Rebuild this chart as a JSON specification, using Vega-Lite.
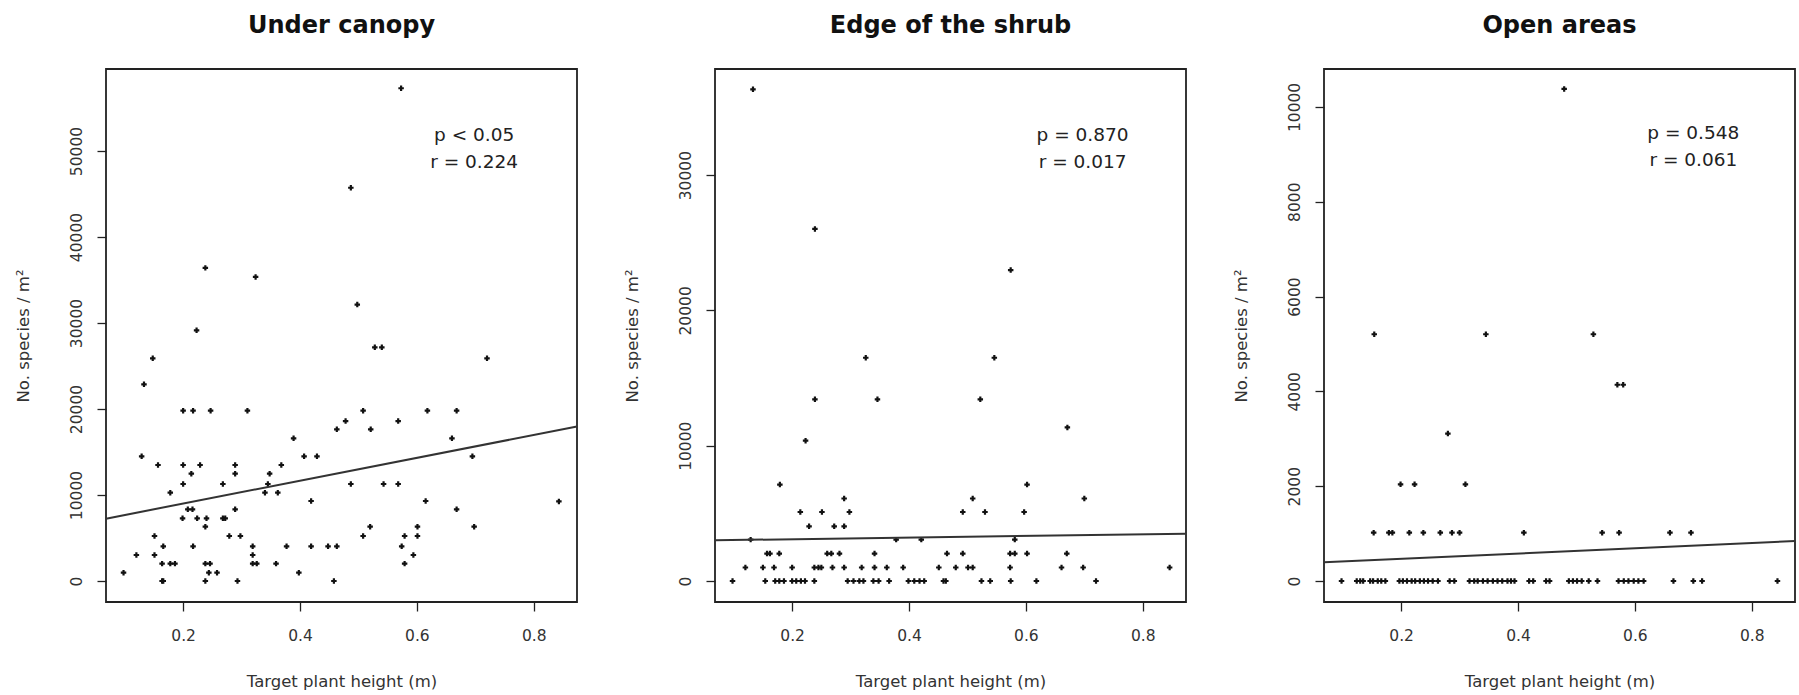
{
  "$schema": "https://vega.github.io/schema/vega-lite/v6.json",
  "autosize": {"type": "pad"},
  "padding": {"left": 14, "top": 13, "right": 0, "bottom": 0},
  "background": "white",
  "bounds": "flush",
  "spacing": 138,
  "datasets": {
    "p1": [
      {"h":0.573,"n":57300},{"h":0.487,"n":45730},{"h":0.238,"n":36410},{"h":0.324,"n":35360},{"h":0.498,"n":32140},{"h":0.223,"n":29150},{"h":0.528,"n":27170},{"h":0.540,"n":27170},{"h":0.148,"n":25890},{"h":0.720,"n":25890},{"h":0.133,"n":22870},
      {"h":0.200,"n":19800},{"h":0.217,"n":19800},{"h":0.247,"n":19800},{"h":0.310,"n":19800},{"h":0.508,"n":19800},{"h":0.618,"n":19800},{"h":0.668,"n":19800},
      {"h":0.478,"n":18600},{"h":0.568,"n":18600},{"h":0.463,"n":17640},{"h":0.521,"n":17640},{"h":0.389,"n":16590},{"h":0.660,"n":16590},
      {"h":0.129,"n":14500},{"h":0.407,"n":14500},{"h":0.429,"n":14500},{"h":0.695,"n":14500},
      {"h":0.157,"n":13490},{"h":0.200,"n":13490},{"h":0.229,"n":13490},{"h":0.289,"n":13490},{"h":0.368,"n":13490},
      {"h":0.214,"n":12480},{"h":0.289,"n":12480},{"h":0.348,"n":12480},
      {"h":0.200,"n":11280},{"h":0.268,"n":11280},{"h":0.345,"n":11280},{"h":0.487,"n":11280},{"h":0.543,"n":11280},{"h":0.568,"n":11280},
      {"h":0.178,"n":10270},{"h":0.340,"n":10270},{"h":0.362,"n":10270},
      {"h":0.419,"n":9300},{"h":0.615,"n":9300},{"h":0.843,"n":9250},
      {"h":0.208,"n":8330},{"h":0.216,"n":8330},{"h":0.289,"n":8330},{"h":0.668,"n":8330},
      {"h":0.199,"n":7290},{"h":0.224,"n":7290},{"h":0.240,"n":7290},{"h":0.268,"n":7290},{"h":0.272,"n":7290},
      {"h":0.238,"n":6320},{"h":0.520,"n":6320},{"h":0.601,"n":6320},{"h":0.698,"n":6320},
      {"h":0.151,"n":5230},{"h":0.279,"n":5230},{"h":0.298,"n":5230},{"h":0.508,"n":5230},{"h":0.579,"n":5230},{"h":0.601,"n":5230},
      {"h":0.166,"n":4030},{"h":0.217,"n":4030},{"h":0.319,"n":4030},{"h":0.377,"n":4030},{"h":0.419,"n":4030},{"h":0.448,"n":4030},{"h":0.463,"n":4030},{"h":0.574,"n":4030},
      {"h":0.120,"n":3020},{"h":0.151,"n":3020},{"h":0.319,"n":3020},{"h":0.594,"n":3020},
      {"h":0.164,"n":2020},{"h":0.178,"n":2020},{"h":0.186,"n":2020},{"h":0.238,"n":2020},{"h":0.246,"n":2020},{"h":0.319,"n":2020},{"h":0.326,"n":2020},{"h":0.359,"n":2020},{"h":0.579,"n":2020},
      {"h":0.098,"n":970},{"h":0.244,"n":970},{"h":0.258,"n":970},{"h":0.398,"n":970},
      {"h":0.164,"n":0},{"h":0.166,"n":0},{"h":0.238,"n":0},{"h":0.293,"n":0},{"h":0.458,"n":0}
    ],
    "p2": [
      {"h":0.133,"n":36340},{"h":0.239,"n":26020},{"h":0.574,"n":22980},{"h":0.326,"n":16500},{"h":0.546,"n":16500},{"h":0.239,"n":13430},{"h":0.346,"n":13430},{"h":0.522,"n":13430},{"h":0.671,"n":11350},{"h":0.223,"n":10370},{"h":0.179,"n":7130},{"h":0.602,"n":7130},
      {"h":0.289,"n":6100},{"h":0.509,"n":6100},{"h":0.700,"n":6100},
      {"h":0.214,"n":5100},{"h":0.251,"n":5100},{"h":0.298,"n":5100},{"h":0.492,"n":5100},{"h":0.530,"n":5100},{"h":0.597,"n":5100},
      {"h":0.229,"n":4040},{"h":0.272,"n":4040},{"h":0.289,"n":4040},
      {"h":0.129,"n":3060},{"h":0.378,"n":3060},{"h":0.421,"n":3060},{"h":0.581,"n":3060},
      {"h":0.157,"n":2030},{"h":0.162,"n":2030},{"h":0.178,"n":2030},{"h":0.260,"n":2030},{"h":0.267,"n":2030},{"h":0.281,"n":2030},{"h":0.341,"n":2030},{"h":0.465,"n":2030},{"h":0.492,"n":2030},{"h":0.573,"n":2030},{"h":0.581,"n":2030},{"h":0.602,"n":2030},{"h":0.670,"n":2030},
      {"h":0.120,"n":1000},{"h":0.150,"n":1000},{"h":0.169,"n":1000},{"h":0.200,"n":1000},{"h":0.238,"n":1000},{"h":0.245,"n":1000},{"h":0.250,"n":1000},{"h":0.269,"n":1000},{"h":0.289,"n":1000},{"h":0.319,"n":1000},{"h":0.341,"n":1000},{"h":0.362,"n":1000},{"h":0.390,"n":1000},{"h":0.451,"n":1000},{"h":0.480,"n":1000},{"h":0.501,"n":1000},{"h":0.509,"n":1000},{"h":0.573,"n":1000},{"h":0.661,"n":1000},{"h":0.698,"n":1000},{"h":0.846,"n":1000},
      {"h":0.098,"n":0},{"h":0.154,"n":0},{"h":0.171,"n":0},{"h":0.178,"n":0},{"h":0.186,"n":0},{"h":0.200,"n":0},{"h":0.207,"n":0},{"h":0.215,"n":0},{"h":0.222,"n":0},{"h":0.238,"n":0},{"h":0.295,"n":0},{"h":0.305,"n":0},{"h":0.315,"n":0},{"h":0.322,"n":0},{"h":0.339,"n":0},{"h":0.348,"n":0},{"h":0.366,"n":0},{"h":0.399,"n":0},{"h":0.409,"n":0},{"h":0.418,"n":0},{"h":0.426,"n":0},{"h":0.459,"n":0},{"h":0.463,"n":0},{"h":0.524,"n":0},{"h":0.539,"n":0},{"h":0.574,"n":0},{"h":0.618,"n":0},{"h":0.720,"n":0}
    ],
    "p3": [
      {"h":0.479,"n":10380},{"h":0.154,"n":5205},{"h":0.345,"n":5205},{"h":0.529,"n":5205},{"h":0.570,"n":4140},{"h":0.580,"n":4140},{"h":0.280,"n":3110},{"h":0.199,"n":2040},{"h":0.223,"n":2040},{"h":0.310,"n":2040},
      {"h":0.153,"n":1020},{"h":0.179,"n":1020},{"h":0.185,"n":1020},{"h":0.214,"n":1020},{"h":0.238,"n":1020},{"h":0.267,"n":1020},{"h":0.287,"n":1020},{"h":0.300,"n":1020},{"h":0.410,"n":1020},{"h":0.544,"n":1020},{"h":0.573,"n":1020},{"h":0.660,"n":1020},{"h":0.696,"n":1020},
      {"h":0.098,"n":0},{"h":0.124,"n":0},{"h":0.130,"n":0},{"h":0.135,"n":0},{"h":0.147,"n":0},{"h":0.152,"n":0},{"h":0.160,"n":0},{"h":0.166,"n":0},{"h":0.173,"n":0},{"h":0.197,"n":0},{"h":0.203,"n":0},{"h":0.210,"n":0},{"h":0.218,"n":0},{"h":0.224,"n":0},{"h":0.232,"n":0},{"h":0.239,"n":0},{"h":0.246,"n":0},{"h":0.254,"n":0},{"h":0.263,"n":0},{"h":0.283,"n":0},{"h":0.291,"n":0},{"h":0.317,"n":0},{"h":0.325,"n":0},{"h":0.331,"n":0},{"h":0.340,"n":0},{"h":0.348,"n":0},{"h":0.357,"n":0},{"h":0.365,"n":0},{"h":0.373,"n":0},{"h":0.382,"n":0},{"h":0.388,"n":0},{"h":0.394,"n":0},{"h":0.419,"n":0},{"h":0.426,"n":0},{"h":0.448,"n":0},{"h":0.454,"n":0},{"h":0.487,"n":0},{"h":0.494,"n":0},{"h":0.501,"n":0},{"h":0.509,"n":0},{"h":0.521,"n":0},{"h":0.536,"n":0},{"h":0.572,"n":0},{"h":0.581,"n":0},{"h":0.589,"n":0},{"h":0.598,"n":0},{"h":0.606,"n":0},{"h":0.615,"n":0},{"h":0.666,"n":0},{"h":0.700,"n":0},{"h":0.715,"n":0},{"h":0.844,"n":0}
    ],
    "l1": [{"h":0.068,"n":7250},{"h":0.874,"n":17963}],
    "l2": [{"h":0.068,"n":3010},{"h":0.874,"n":3500}],
    "l3": [{"h":0.068,"n":394},{"h":0.874,"n":842}],
    "a1": [{"h":0.698,"n":51860,"label":"p < 0.05"},{"h":0.698,"n":48720,"label":"r = 0.224"}],
    "a2": [{"h":0.697,"n":32960,"label":"p = 0.870"},{"h":0.697,"n":30970,"label":"r = 0.017"}],
    "a3": [{"h":0.700,"n":9450,"label":"p = 0.548"},{"h":0.700,"n":8880,"label":"r = 0.061"}]
  },
  "hconcat": [
    {
      "width": 471, "height": 533,
      "title": "Under canopy",
      "encoding": {
        "x": {"field": "h", "type": "quantitative", "scale": {"domain": [0.068, 0.874], "nice": false, "zero": false}, "axis": {"values": [0.2, 0.4, 0.6, 0.8], "format": ".1f", "title": "Target plant height (m)"}},
        "y": {"field": "n", "type": "quantitative", "scale": {"domain": [-2442, 59535], "nice": false, "zero": false}, "axis": {"values": [0, 10000, 20000, 30000, 40000, 50000], "format": "d", "title": "No. species / m²"}}
      },
      "layer": [
        {"data": {"name": "p1"}, "mark": {"type": "point", "shape": "cross", "filled": true, "size": 30, "color": "#111", "opacity": 1}},
        {"data": {"name": "l1"}, "mark": {"type": "line", "color": "#333", "strokeWidth": 2}},
        {"data": {"name": "a1"}, "mark": {"type": "text", "fontSize": 18.5, "color": "#222", "align": "center", "baseline": "middle"}, "encoding": {"text": {"field": "label"}}}
      ]
    },
    {
      "width": 471, "height": 533,
      "title": "Edge of the shrub",
      "encoding": {
        "x": {"field": "h", "type": "quantitative", "scale": {"domain": [0.068, 0.874], "nice": false, "zero": false}, "axis": {"values": [0.2, 0.4, 0.6, 0.8], "format": ".1f", "title": "Target plant height (m)"}},
        "y": {"field": "n", "type": "quantitative", "scale": {"domain": [-1550, 37840], "nice": false, "zero": false}, "axis": {"values": [0, 10000, 20000, 30000], "format": "d", "title": "No. species / m²"}}
      },
      "layer": [
        {"data": {"name": "p2"}, "mark": {"type": "point", "shape": "cross", "filled": true, "size": 30, "color": "#111", "opacity": 1}},
        {"data": {"name": "l2"}, "mark": {"type": "line", "color": "#333", "strokeWidth": 2}},
        {"data": {"name": "a2"}, "mark": {"type": "text", "fontSize": 18.5, "color": "#222", "align": "center", "baseline": "middle"}, "encoding": {"text": {"field": "label"}}}
      ]
    },
    {
      "width": 471, "height": 533,
      "title": "Open areas",
      "encoding": {
        "x": {"field": "h", "type": "quantitative", "scale": {"domain": [0.068, 0.874], "nice": false, "zero": false}, "axis": {"values": [0.2, 0.4, 0.6, 0.8], "format": ".1f", "title": "Target plant height (m)"}},
        "y": {"field": "n", "type": "quantitative", "scale": {"domain": [-443, 10800], "nice": false, "zero": false}, "axis": {"values": [0, 2000, 4000, 6000, 8000, 10000], "format": "d", "title": "No. species / m²"}}
      },
      "layer": [
        {"data": {"name": "p3"}, "mark": {"type": "point", "shape": "cross", "filled": true, "size": 30, "color": "#111", "opacity": 1}},
        {"data": {"name": "l3"}, "mark": {"type": "line", "color": "#333", "strokeWidth": 2}},
        {"data": {"name": "a3"}, "mark": {"type": "text", "fontSize": 18.5, "color": "#222", "align": "center", "baseline": "middle"}, "encoding": {"text": {"field": "label"}}}
      ]
    }
  ],
  "config": {
    "font": "DejaVu Sans",
    "view": {"stroke": "#222", "strokeWidth": 1.8},
    "axis": {
      "grid": false, "domain": false,
      "tickColor": "#222", "tickSize": 9, "tickWidth": 1.3,
      "labelFont": "DejaVu Sans", "labelColor": "#333", "labelFontSize": 15.5,
      "titleFont": "DejaVu Sans", "titleFontWeight": "normal", "titleColor": "#333", "titleFontSize": 16.5
    },
    "axisX": {"labelBaseline": "middle", "labelPadding": 24.5, "titleY": 84, "titleX": 235.5, "titleBaseline": "alphabetic", "titleAlign": "center"},
    "axisY": {"labelAngle": 270, "labelAlign": "center", "labelBaseline": "middle", "labelPadding": 21, "titleX": -78, "titleY": 266.5, "titleAngle": 270, "titleAlign": "center", "titleBaseline": "alphabetic"},
    "title": {"font": "DejaVu Sans", "fontSize": 24, "fontWeight": "bold", "color": "#111", "anchor": "middle", "baseline": "alphabetic", "offset": 31}
  }
}
